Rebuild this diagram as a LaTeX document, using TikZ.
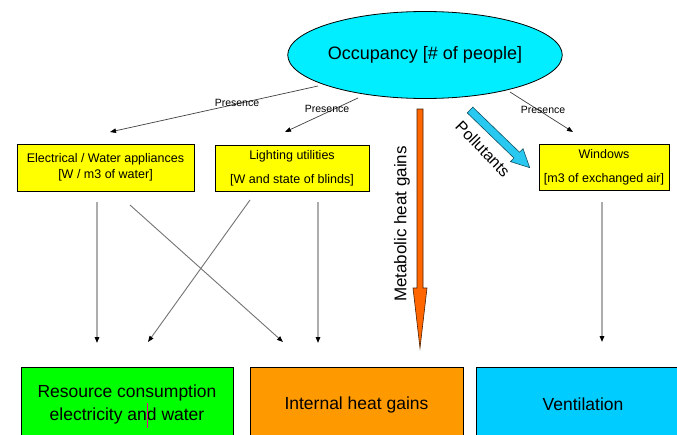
\documentclass[tikz,border=0pt]{standalone}
\usepackage{fontspec}
\setmainfont{Liberation Sans}
\usetikzlibrary{shapes.geometric,arrows.meta}
\definecolor{occ}{RGB}{0,238,255}
\definecolor{ybox}{RGB}{255,255,0}
\definecolor{gbox}{RGB}{0,255,0}
\definecolor{obox}{RGB}{255,153,0}
\definecolor{bbox}{RGB}{0,204,255}
\definecolor{oarrow}{RGB}{255,102,0}
\definecolor{parrow}{RGB}{40,200,240}
\tikzset{
  ybx/.style={draw=black, line width=0.8pt, fill=ybox, inner sep=0pt, align=center},
  btm/.style={draw=black, line width=0.8pt, inner sep=0pt, align=center, font=\fontsize{17.5}{23}\selectfont},
  tip/.style={-{Triangle[length=6pt,width=4.5pt,color=black]}},
  pres/.style={tip, draw=black!75, line width=0.7pt},
  vconn/.style={tip, draw=black!32, line width=1.4pt},
  dconn/.style={tip, draw=black!55, line width=0.9pt},
  plabel/.style={font=\fontsize{10.5}{12}\selectfont, inner sep=0pt},
  boxfont/.style={font=\fontsize{12.5}{16}\selectfont}
}
\begin{document}
\begin{tikzpicture}[x=1pt,y=-1pt]
\useasboundingbox (0,0) rectangle (677,434);
\clip (0,0) rectangle (677,434);
\fill[white] (0,0) rectangle (677,434);

% top ellipse
\node[ellipse, draw=black, line width=0.8pt, fill=occ, minimum width=216, minimum height=87, inner sep=0pt,
      font=\fontsize{18}{20}\selectfont] (occ) at (425,55) {Occupancy [\# of people]};

% yellow boxes
\node[ybx, boxfont, minimum width=177, minimum height=47] (elec) at (105.5,167.5)
  {Electrical / Water appliances\\{}[W / m3 of water]};
\node[ybx, boxfont, minimum width=154, minimum height=46] (light) at (292,168)
  {Lighting utilities\\[8pt]{}[W and state of blinds]};
\node[ybx, boxfont, minimum width=130, minimum height=46] (win) at (604,167)
  {Windows\\[8pt]{}[m3 of exchanged air]};

% bottom boxes
\node[btm, fill=gbox, minimum width=212, minimum height=75] (res) at (127,404.5)
  {Resource consumption\\electricity and water};
\node[btm, fill=obox, minimum width=213, minimum height=75] (ihg) at (356.5,404.5)
  {Internal heat gains};
\node[btm, fill=bbox, minimum width=214, minimum height=75] (vent) at (583,404.5)
  {Ventilation};

% cursor mark
\coordinate (cur1) at (147,403);
\coordinate (cur2) at (147,428);
\draw[magenta, line width=0.9pt] (cur1) -- (cur2);

% presence arrows
\coordinate (p1s) at (318,86);  \coordinate (p1e) at (110,132);
\coordinate (p2s) at (358,98);  \coordinate (p2e) at (285,132);
\coordinate (p3s) at (510,92);  \coordinate (p3e) at (573,132);
\draw[pres] (p1s) -- (p1e);
\draw[pres] (p2s) -- (p2e);
\draw[pres] (p3s) -- (p3e);
\node[plabel] (pl1) at (237,103) {Presence};
\node[plabel] (pl2) at (327,109) {Presence};
\node[plabel] (pl3) at (543,110) {Presence};

% connectors from yellow boxes to bottom boxes
\coordinate (v1s) at (97,202);  \coordinate (v1e) at (97,343);
\coordinate (d1s) at (130,205); \coordinate (d1e) at (283,342);
\coordinate (d2s) at (250,200); \coordinate (d2e) at (148,342);
\coordinate (v2s) at (318,202); \coordinate (v2e) at (318,343);
\coordinate (v3s) at (602,202); \coordinate (v3e) at (602,342);
\draw[vconn] (v1s) -- (v1e);
\draw[dconn] (d1s) -- (d1e);
\draw[dconn] (d2s) -- (d2e);
\draw[vconn] (v2s) -- (v2e);
\draw[vconn] (v3s) -- (v3e);

% metabolic heat gains arrow
\draw[fill=oarrow, draw=black!70!oarrow, line width=0.6pt]
  (417,109) -- (423,109) -- (423,288) -- (427,288) -- (420,348) -- (413,288) -- (417,288) -- cycle;
\node[rotate=90, font=\fontsize{17}{20}\selectfont, inner sep=0pt] (met) at (402,224) {Metabolic heat gains};

% pollutants arrow
\begin{scope}[shift={(470,110)}, rotate=-44]
  \draw[fill=parrow, draw=black!60!parrow, line width=0.6pt]
    (0,-4) -- (65,-4) -- (65,-9) -- (83,0) -- (65,9) -- (65,4) -- (0,4) -- cycle;
\end{scope}
\node[rotate=-46, font=\fontsize{16}{18}\selectfont, inner sep=0pt] (pol) at (483,149) {Pollutants};
\end{tikzpicture}
\end{document}
